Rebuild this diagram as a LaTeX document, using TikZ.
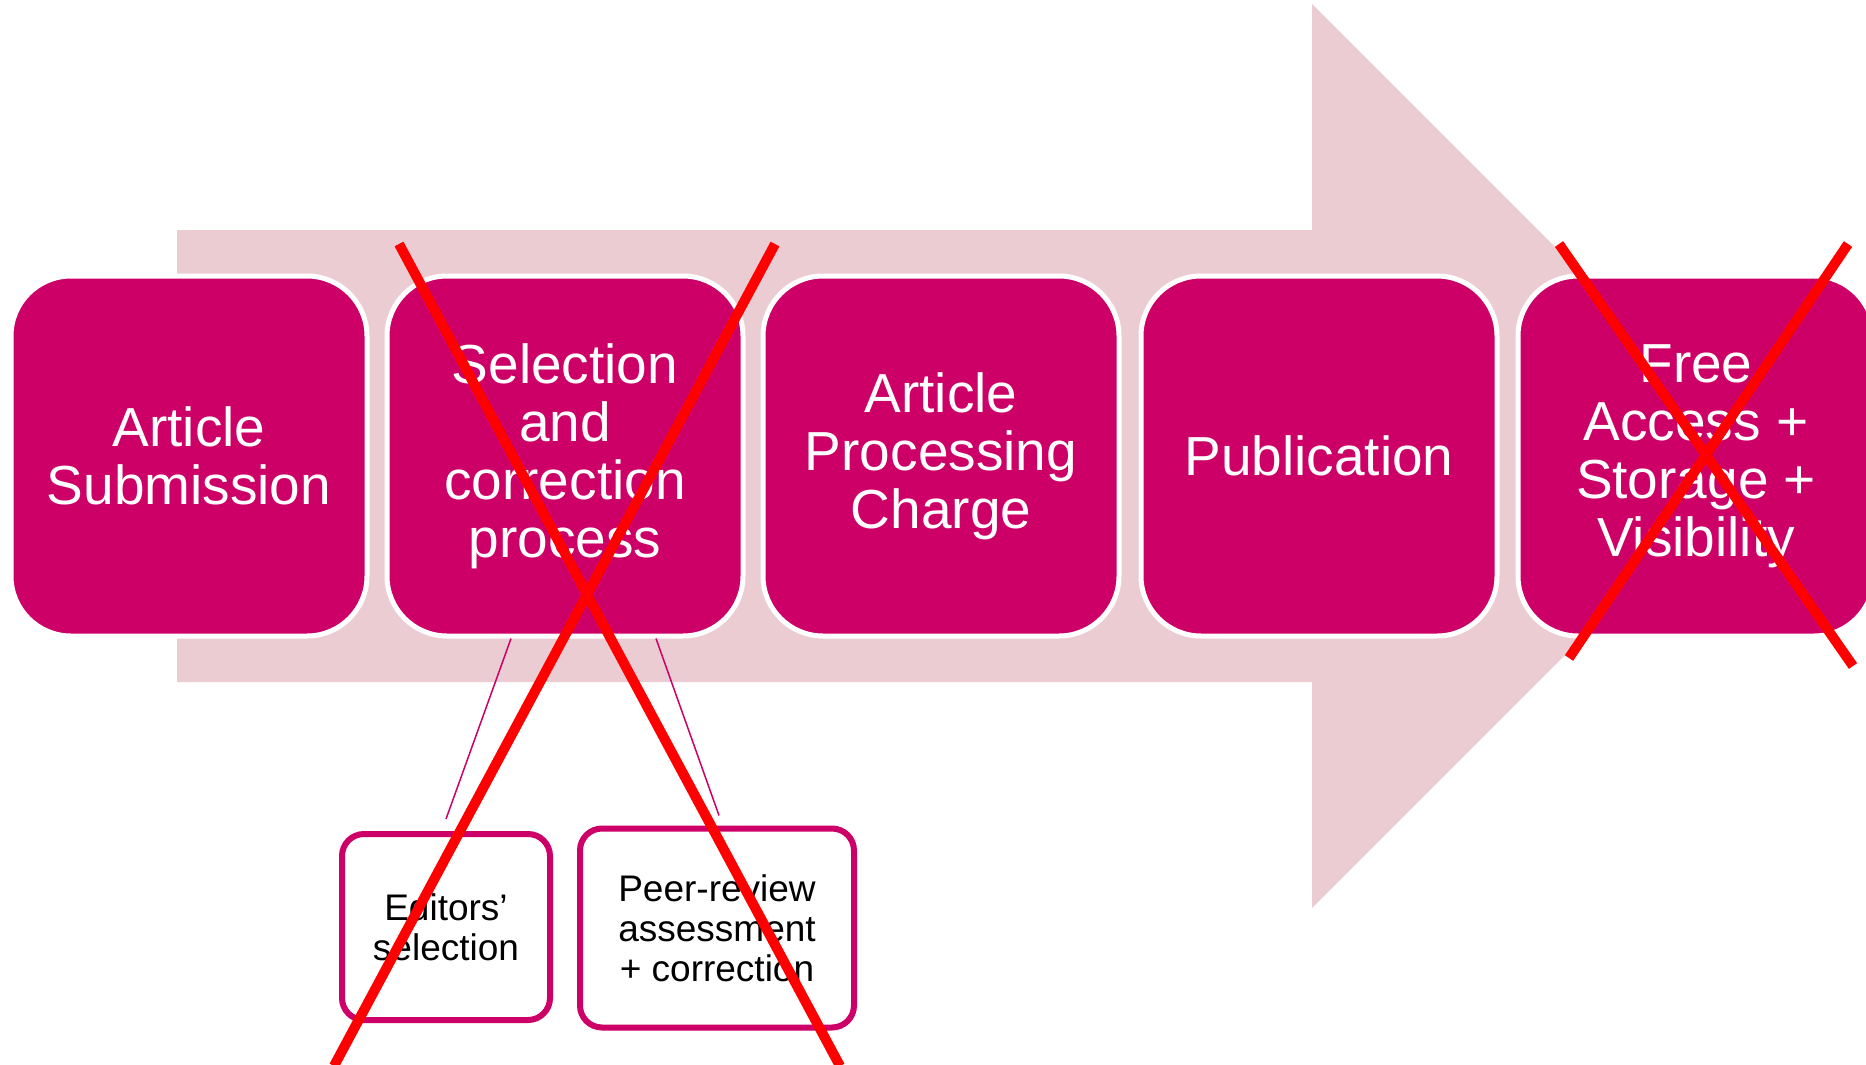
\documentclass[tikz,border=0pt]{standalone}
\usepackage{fontspec}
\setmainfont{Liberation Sans}
\usetikzlibrary{calc}
\definecolor{mag}{RGB}{204,0,102}
\definecolor{pinkarrow}{RGB}{236,204,211}
\definecolor{xred}{RGB}{255,0,0}
\begin{document}
\begin{tikzpicture}[x=1pt,y=-1pt,
  stage/.style={draw=white, line width=5pt, fill=mag, rounded corners=60pt,
    minimum width=356pt, minimum height=360pt, text=white, align=center,
    font=\fontsize{55}{58}\selectfont, inner sep=0pt},
  subbox/.style={draw=mag, line width=6pt, fill=white, rounded corners=22pt,
    align=center, font=\fontsize{37}{40}\selectfont, inner sep=0pt},
  link/.style={draw=mag, line width=1.5pt},
  cross/.style={draw=xred, line width=10pt, line cap=butt}]
\useasboundingbox (0,0) rectangle (1866,1065);
\begin{scope}
\clip (0,0) rectangle (1866,1065);
% big background arrow
\fill[pinkarrow] (177,230) -- (1312,230) -- (1312,4) -- (1764,456)
  -- (1312,908) -- (1312,682) -- (177,682) -- cycle;
% stages
\node[stage] (s1) at (189,456) {Article\\Submission};
\node[stage] (s2) at (565,456) {Selection\\and\\correction\\process};
\node[stage] (s3) at (941,456) {Article\\Processing\\Charge};
\node[stage] (s4) at (1319,456) {Publication};
\node[stage] (s5) at (1696,456) {Free\\Access +\\Storage +\\Visibility};
% sub-steps
\node[subbox, minimum width=208pt, minimum height=186pt] (ed) at (446,927) {Editors’\\selection};
\node[subbox, minimum width=274pt, minimum height=199pt] (pr) at (717,928) {Peer-review\\assessment\\+ correction};
% connectors
\draw[link] ($(s2.south)+(-54,0)$) -- ($(ed.north)+(0,-12)$);
\draw[link] ($(s2.south)+(91,0)$) -- ($(pr.north)+(2,-10)$);
% red crosses
\draw[cross] (399,244) -- (840,1066);
\draw[cross] (775,244) -- (334,1066);
\draw[cross] (1559,244) -- (1853,666);
\draw[cross] (1848,244) -- (1569,658);
\end{scope}
\end{tikzpicture}
\end{document}
